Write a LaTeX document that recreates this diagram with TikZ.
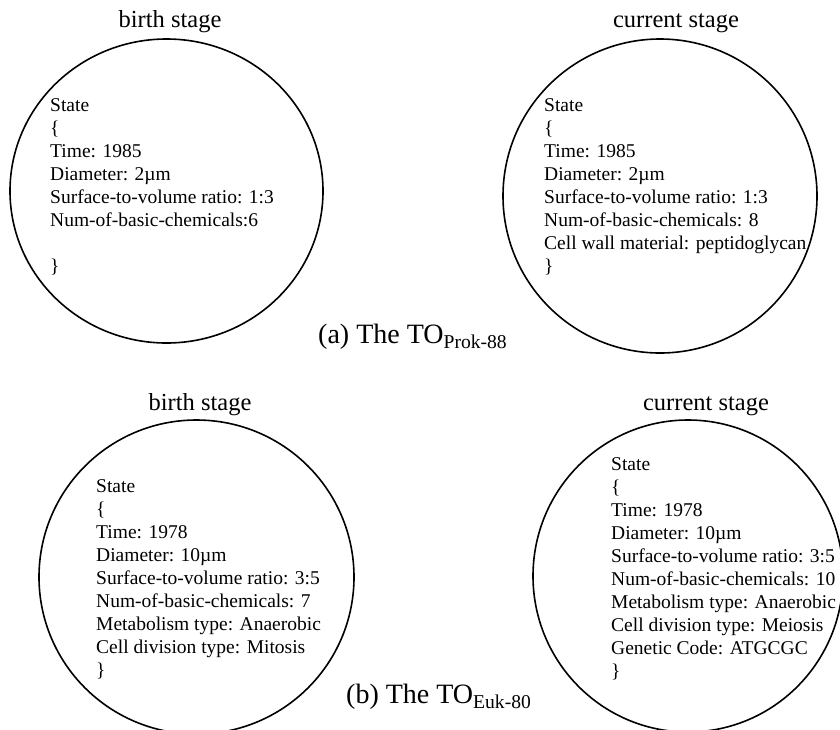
\documentclass[tikz,border=0pt]{standalone}
\usepackage{fontspec}
\setmainfont{Liberation Serif}
\usetikzlibrary{positioning, shapes.geometric}

\begin{document}
\begin{tikzpicture}[x=1pt, y=-1pt]

		% Define styles
		\tikzstyle{cell} = [ellipse, draw, line width=1.6pt, inner sep=0pt]
		\tikzstyle{state} = [anchor=north west, align=left, inner sep=0pt, font=\fontsize{19.5}{23}\selectfont]
		\tikzstyle{stage} = [anchor=base, inner sep=0pt, font=\fontsize{24.5}{28}\selectfont]
		\tikzstyle{caption} = [anchor=base west, inner sep=0pt, font=\fontsize{28}{30}\selectfont]

		\useasboundingbox (0,0) rectangle (840,729);
		\clip (0,0) rectangle (840,729);

		% Cells
		\node[cell, minimum width=313pt, minimum height=304pt] (birthA) at (166.5,191) {};
		\node[cell, minimum width=314pt, minimum height=314pt] (currentA) at (660,196) {};
		\node[cell, minimum width=315pt, minimum height=314pt] (birthB) at (196.5,577) {};
		\node[cell, minimum width=310pt, minimum height=312pt] (currentB) at (688,576) {};

		% States
		\node[state] (stateBA) at (50,98.5) {State\\ \{\\ Time: 1985\\ Diameter: 2µm\\ Surface-to-volume ratio: 1:3\\ Num-of-basic-chemicals:6\\[23pt] \}};
		\begin{scope}
			\clip (660,196) ellipse (156 and 156);
			\node[state] (stateCA) at (544,98.5) {State\\ \{\\ Time: 1985\\ Diameter: 2µm\\ Surface-to-volume ratio: 1:3\\ Num-of-basic-chemicals: 8\\ Cell wall material: peptidoglycan\\ \}};
		\end{scope}
		\node[state] (stateBB) at (96,479.5) {State\\ \{\\ Time: 1978\\ Diameter: 10µm\\ Surface-to-volume ratio: 3:5\\ Num-of-basic-chemicals: 7\\ Metabolism type: Anaerobic\\ Cell division type: Mitosis\\ \}};
		\node[state] (stateCB) at (611,457.5) {State\\ \{\\ Time: 1978\\ Diameter: 10µm\\ Surface-to-volume ratio: 3:5\\ Num-of-basic-chemicals: 10\\ Metabolism type: Anaerobic\\ Cell division type: Meiosis\\ Genetic Code: ATGCGC\\ \}};

		% Labels
		\node[stage] (titleBA) at (170,27) {birth stage};
		\node[stage] (titleCA) at (676,27) {current stage};
		\node[stage] (titleBB) at (200,410) {birth stage};
		\node[stage] (titleCB) at (706,410) {current stage};

		\node[caption] (capA) at (318,343) {(a) The TO\textsubscript{Prok-88}};
		\node[caption] (capB) at (346,703) {(b) The TO\textsubscript{Euk-80}};

	\end{tikzpicture}
\end{document}
